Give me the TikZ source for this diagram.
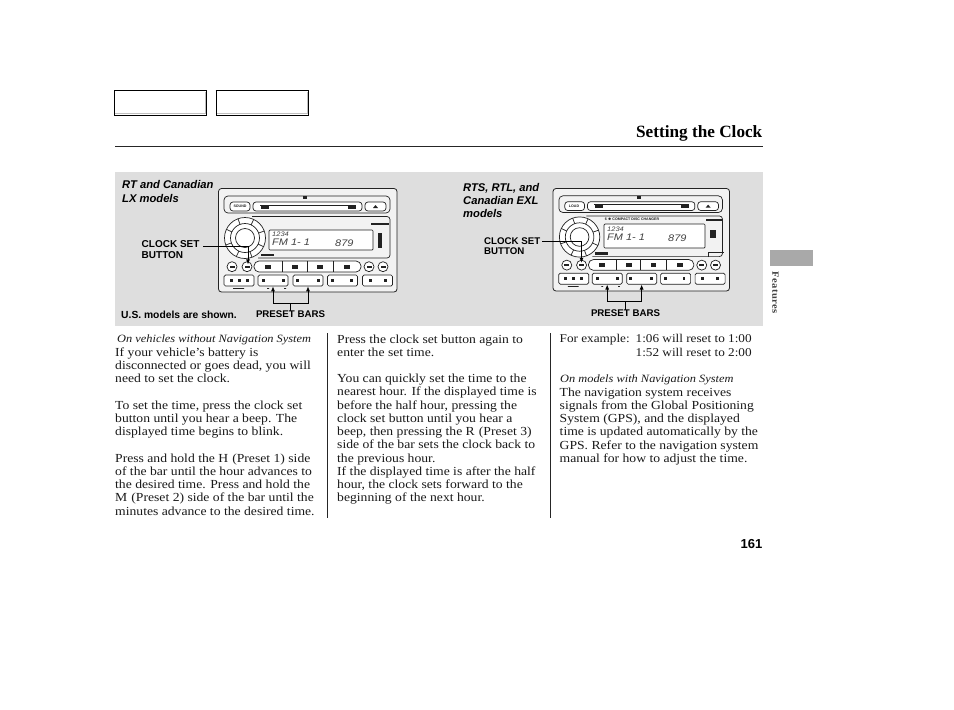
\documentclass[tikz,border=0pt]{standalone}
\usepackage{fontspec}
\setmainfont[FakeStretch=1.11]{Liberation Serif}
\setsansfont{Liberation Sans}
\newfontfamily\titlefont{Liberation Serif}
\newfontfamily\lcdfont[FakeStretch=1.15]{Liberation Sans}
\usetikzlibrary{arrows.meta,shapes.geometric}
\definecolor{panelgray}{HTML}{DEDEDE}
\definecolor{tabgray}{HTML}{A9A9A9}
\definecolor{radioline}{HTML}{222222}
\tikzset{
  body/.style={anchor=north west,inner sep=0pt,align=left,font=\fontsize{12.3}{13.25}\selectfont,text=black!90},
  caption/.style={anchor=west,inner sep=0pt,font=\fontsize{11.15}{13}\selectfont\itshape,text=black!90},
  model/.style={anchor=north west,inner sep=0pt,align=left,font=\fontsize{11.2}{14}\selectfont\sffamily\bfseries\itshape},
  callout/.style={anchor=west,inner sep=0pt,align=left,font=\fontsize{10}{10.8}\selectfont\sffamily\bfseries},
  plate/.style={anchor=north,inner sep=0pt,font=\fontsize{9.7}{10}\selectfont\sffamily\bfseries},
  lead/.style={line width=.8pt,-{Latex[length=5pt,width=4pt]}},
  rule/.style={line width=.8pt,black!85},
  tabbox/.style={draw=black,line width=1pt,fill=white,anchor=north west,minimum width=92pt,minimum height=25pt,inner sep=0pt},
  rline/.style={draw=radioline,line width=.7pt},
  tiny/.style={inner sep=0pt,font=\fontsize{3.6}{4}\selectfont\sffamily\bfseries,text=radioline},
  lcdsmall/.style={anchor=west,inner sep=0pt,font=\fontsize{6.5}{6}\selectfont\lcdfont\itshape,text=black!75},
  lcdbig/.style={anchor=west,inner sep=0pt,font=\fontsize{9.5}{10}\selectfont\lcdfont\itshape,text=black!75},
  presetbar/.style={rline,rounded corners=1.5pt,fill=white,minimum width=30pt,minimum height=11pt,inner sep=0pt},
  smallbtn/.style={rline,circle,fill=white,minimum size=10pt,inner sep=0pt},
  pics/radio/.style={code={
    \draw[rline,rounded corners=4pt] (6,8) rectangle (172,25);
    \draw[rline,rounded corners=3pt,fill=white] (12,14) rectangle (32,23);
    \draw[rline,rounded corners=3pt,fill=white] (35,14) rectangle (144,23);
    \draw[rline,line width=.9pt] (42,17) -- (137,17);
    \draw[rline,fill=radioline] (43,17) rectangle (50,20) (130,17) rectangle (137,20);
    \draw[rline,rounded corners=3pt,fill=white] (147,14) rectangle (168,23);
    \fill[radioline] (155,20) -- (160,20) -- (157.5,17) -- cycle;
    \fill[radioline] (85,8) rectangle (89,11);
    \draw[rline,rounded corners=3pt] (34,28.5) -- (172,28.5) -- (172,70) -- (40,70);
    % tuning knob
    \draw[rline,fill=white] (27,50) circle (20.5);
    \draw[rline] (27,50) circle (14.5);
    \draw[rline,fill=white] (27,50) circle (9.5);
    \foreach \a in {25,70,115,160,205,250,295,340}
      \draw[rline] (27,50) ++(\a:14.5) -- ++(\a:6);
    \fill[radioline] (43,65.5) rectangle (56,68);
    % button row
    \node[smallbtn] (-seek) at (14,78.7) {};
    \node[smallbtn] (-clock) at (29,78.7) {};
    \draw[rline,rounded corners=5pt,fill=white] (36,73) rectangle (143,84);
    \foreach \x in {64,89,115}
      \draw[rline,line width=1pt] (\x,73) -- (\x,84);
    \foreach \x in {50,77,102,129}
      \fill[radioline] (\x-3,77) rectangle (\x+3,80.5);
    \node[smallbtn] (-scan) at (151,78.7) {};
    \node[smallbtn] (-rpt) at (165,78.7) {};
    \foreach \x in {14,29,151,165}
      \fill[radioline] (\x-2.5,78) rectangle (\x+2.5,79.5);
    % preset row
    \node[presetbar] (-pre1) at (21,92.5) {};
    \node[presetbar] (-pre2) at (55,92.5) {};
    \node[presetbar] (-pre3) at (90,92.5) {};
    \node[presetbar] (-pre4) at (124.5,92.5) {};
    \node[presetbar] (-pre5) at (159.5,92.5) {};
    \foreach \x in {13,21,29,45,65,79,100,114,133,152,167}
      \fill[radioline] (\x-1.5,91) rectangle (\x+1.5,94);
    \fill[radioline] (15,100) rectangle (26,100.8) (49,100) rectangle (51,100.8) (66,100) rectangle (68,100.8);
  }}
}
\begin{document}
\begin{tikzpicture}[x=1pt,y=-1pt]
  \useasboundingbox (0,0) rectangle (954,710);
  % header
  \node[tabbox] (tabA) at (114,90) {};
  \node[tabbox] (tabB) at (216,90) {};
  \draw[black!25,line width=1pt] (115,113.5) -- (205,113.5) -- (205,91.5);
  \draw[black!25,line width=1pt] (217,113.5) -- (307,113.5) -- (307,91.5);
  \draw[line width=1pt] (215.5,90.5) -- (308.5,90.5);
  \node[anchor=base east,inner sep=0pt,font=\fontsize{17.2}{20}\selectfont\titlefont\bfseries] (title) at (762.5,137) {Setting the Clock};
  \draw[rule] (115,146.5) -- (763,146.5);
  \fill[panelgray] (115,172) rectangle (763,326);
  % left radio
  \draw[rline,rounded corners=3pt,fill=black!5,line width=.8pt] (218.5,188.5) rectangle (397,292);
  \pic (lhs) at (218,188) {radio};
  \begin{scope}[shift={(218,188)}]
    \node[tiny] (lhssound) at (22,18.5) {SOUND};
    \draw[rline,fill=white,rounded corners=1pt] (51,42) rectangle (155,62);
    \node[lcdsmall] (lhsch) at (54,46) {1234};
    \node[lcdbig] (lhsfm) at (54,54.5) {FM 1- 1};
    \node[lcdbig] (lhsfreq) at (117,55) {879};
    \fill[radioline] (160,45) rectangle (164,60);
    \fill[radioline] (153,35) rectangle (171,37);
  \end{scope}
  % right radio
  \draw[rline,rounded corners=3pt,fill=black!5,line width=.8pt] (553,188.5) rectangle (729.5,291);
  \pic (rhs) [xscale=.985,yscale=.98] at (553,188) {radio};
  \begin{scope}[shift={(553,188)}]
    \node[tiny] (rhsload) at (21,18) {LOAD};
    \node[tiny] (rhslabel) at (79,31.5) {6 $\bullet$ COMPACT DISC CHANGER};
    \draw[rline,fill=white,rounded corners=1pt] (51,36) rectangle (152,60);
    \node[lcdsmall] (rhsch) at (54,41) {1234};
    \node[lcdbig] (rhsfm) at (54,49.5) {FM 1- 1};
    \node[lcdbig] (rhsfreq) at (115,50.5) {879};
    \fill[radioline] (157,42) rectangle (163,50);
    \fill[radioline] (153,31) rectangle (170,33);
    \draw[rline] (155,69) -- (155,64) -- (171,64);
  \end{scope}
  % panel labels
  \node[model] (leftmodel) at (122,180) {RT and Canadian\\LX models};
  \node[model,font=\fontsize{11.2}{13}\selectfont\sffamily\bfseries\itshape] (rightmodel) at (463,183) {RTS, RTL, and\\Canadian EXL\\models};
  \node[callout] (clockL) at (141.5,249.5) {CLOCK SET\\BUTTON};
  \node[callout,font=\fontsize{9.7}{10.6}\selectfont\sffamily\bfseries] (clockR) at (484,246) {CLOCK SET\\BUTTON};
  \node[anchor=west,inner sep=0pt,font=\fontsize{10.3}{10}\selectfont\sffamily\bfseries] (shown) at (121,315) {U.S. models are shown.};
  \node[plate] (presetL) at (290.5,311) {PRESET BARS};
  \node[plate] (presetR) at (625.5,309.5) {PRESET BARS};
  \coordinate (kneeL) at (248,246);
  \coordinate (kneeR) at (581.5,241);
  \draw[lead] (203,246) -- (kneeL) -- ([yshift=-3pt]lhs-clock.north -| kneeL);
  \draw[lead] (542,241) -- (kneeR) -- ([yshift=-3pt]rhs-clock.north -| kneeR);
  \draw[line width=.8pt] (presetL.north) -- ++(0,-8) coordinate (forkL);
  \draw[line width=.8pt] (presetR.north) -- ++(0,-8) coordinate (forkR);
  \draw[lead] (forkL) -| (lhs-pre2.south);
  \draw[lead] (forkL) -| (lhs-pre3.south);
  \draw[lead] (forkR) -| (rhs-pre2.south);
  \draw[lead] (forkR) -| (rhs-pre3.south);
  % columns
  \draw[rule] (327.5,333) -- (327.5,518);
  \draw[rule] (550.5,333) -- (550.5,518);
  \node[caption] (capA) at (117,339.5) {On vehicles without Navigation System};
  \node[body] (blockA) at (115,347.5) {If your vehicle's battery is\\disconnected or goes dead, you will\\need to set the clock.};
  \node[body] (blockB) at (115,400.5) {To set the time, press the clock set\\button until you hear a beep. The\\displayed time begins to blink.};
  \node[body] (blockC) at (115,453.5) {Press and hold the H\,\,(Preset 1) side\\of the bar until the hour advances to\\the desired time. Press and hold the\\M\,\,(Preset 2) side of the bar until the\\minutes advance to the desired time.};
  \node[body] (blockD) at (337,334.5) {Press the clock set button again to\\enter the set time.};
  \node[body] (blockE) at (337,374) {You can quickly set the time to the\\nearest hour. If the displayed time is\\before the half hour, pressing the\\clock set button until you hear a\\beep, then pressing the R\,\,(Preset 3)\\side of the bar sets the clock back to\\the previous hour.\\If the displayed time is after the half\\hour, the clock sets forward to the\\beginning of the next hour.};
  \node[body,font=\fontsize{11.9}{13.25}\selectfont] (blockF) at (559.5,334.5) {For example:};
  \node[body,font=\fontsize{11.9}{13.25}\selectfont] (blockG) at (635.5,334.5) {1:06 will reset to 1:00\\1:52 will reset to 2:00};
  \node[caption] (capB) at (560,379.5) {On models with Navigation System};
  \node[body] (blockH) at (559.5,387.5) {The navigation system receives\\signals from the Global Positioning\\System (GPS), and the displayed\\time is updated automatically by the\\GPS. Refer to the navigation system\\manual for how to adjust the time.};
  % margin
  \fill[tabgray] (770,250) rectangle (813,266);
  \node[rotate=-90,inner sep=0pt,font=\fontsize{9.5}{9}\selectfont\bfseries\addfontfeature{LetterSpace=4},text=black!75] (features) at (775.5,292.5) {Features};
  \node[anchor=base east,inner sep=0pt,font=\fontsize{13}{14}\selectfont\sffamily\bfseries] (page) at (762.5,548) {161};
\end{tikzpicture}
\end{document}
